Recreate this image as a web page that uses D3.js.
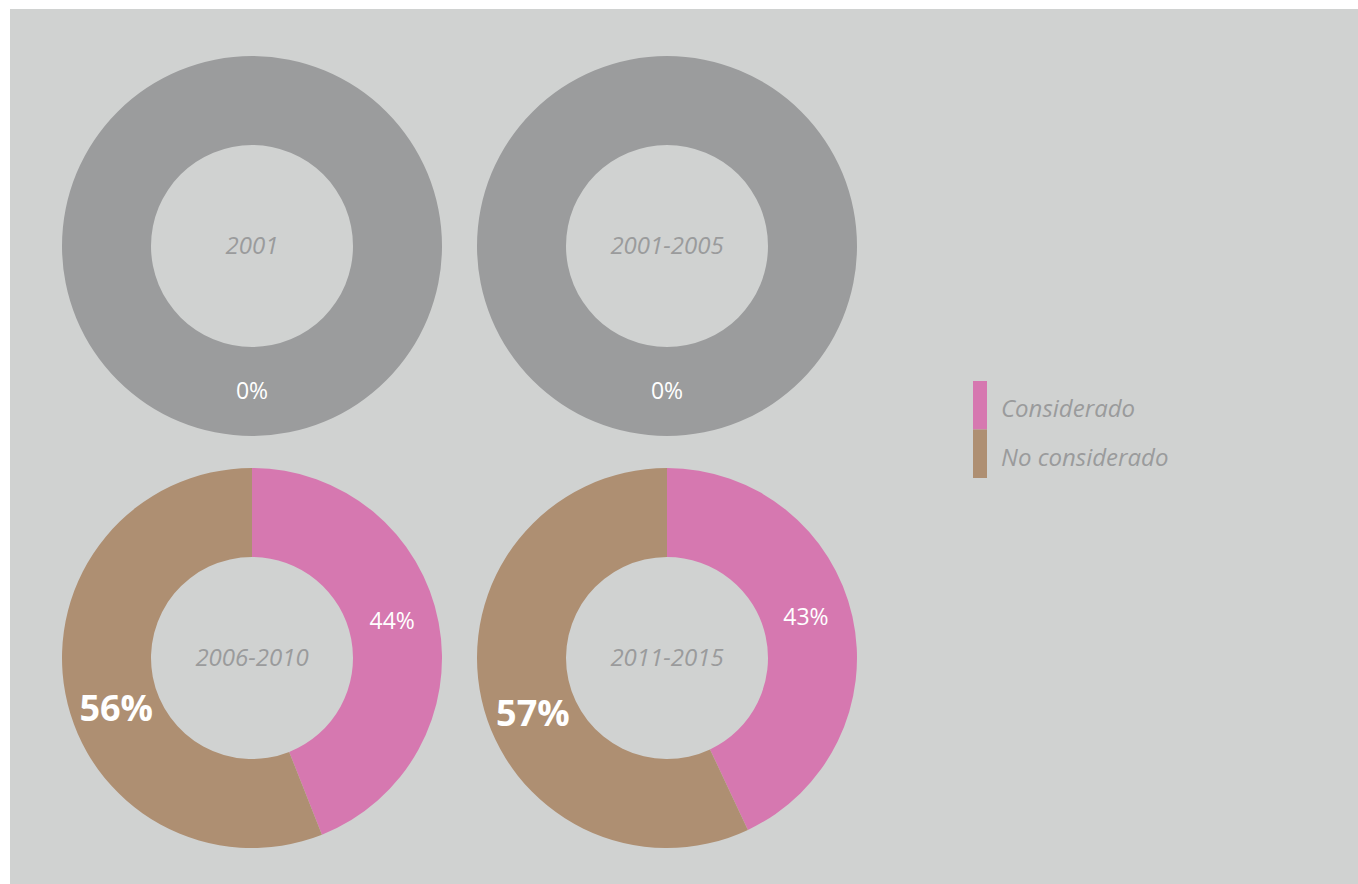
<!DOCTYPE html>
<html>
<head>
<meta charset="utf-8">
<script src="https://cdn.jsdelivr.net/npm/d3@7"></script>
<style>
  body { margin: 0; background: #fff; }
  text { font-family: 'Open Sans', sans-serif; }
</style>
</head>
<body>
<script>
// DATA
const periods = ['2001', '2001-2005', '2006-2010', '2011-2015'];
const considerado = [0, 0, 44, 43];
const noConsiderado = [0, 0, 56, 57];
const seriesNames = ['Considerado', 'No considerado'];

// CONFIGURATION
const width = 1358;
const height = 884;
const colors = ['#d678b0', '#ae8f72'];
const emptyColor = '#9b9c9d';
const outerR = 190;
const innerR = 101;
const labelR = 145;

const col = d3.scaleOrdinal().domain([0, 1]).range([252, 667]);
const row = d3.scaleOrdinal().domain([0, 1]).range([246, 658]);

const svg = d3.select('body')
	.append('svg')
	.attr('width', width)
	.attr('height', height);

svg.append('rect')
	.attr('x', 10)
	.attr('y', 9)
	.attr('width', width - 10)
	.attr('height', height - 9)
	.attr('fill', '#d0d2d1');

const pie = d3.pie().sort(null).value(function(d) { return d; });
const arc = d3.arc().innerRadius(innerR).outerRadius(outerR);

periods.forEach(function(period, i) {
	const g = svg.append('g')
		.attr('transform', `translate(${col(i % 2)}, ${row(Math.floor(i / 2))})`);
	const values = [considerado[i], noConsiderado[i]];
	const total = d3.sum(values);

	if (total === 0) {
		g.append('path')
			.attr('d', arc({ startAngle: 0, endAngle: 2 * Math.PI }))
			.attr('fill', emptyColor);
		g.append('text')
			.attr('x', 0)
			.attr('y', labelR)
			.attr('dy', '0.35em')
			.attr('text-anchor', 'middle')
			.attr('fill', '#fff')
			.attr('font-size', 23)
			.text('0%');
	} else {
		const arcs = pie(values);
		g.selectAll('path')
			.data(arcs)
			.enter()
			.append('path')
			.attr('d', arc)
			.attr('fill', function(d, j) { return colors[j]; });
		g.selectAll('text.pct')
			.data(arcs)
			.enter()
			.append('text')
			.attr('class', 'pct')
			.attr('transform', function(d) {
				const a = (d.startAngle + d.endAngle) / 2 - (d.index === 0 ? 0.07 : 0.17);
				return `translate(${Math.sin(a) * labelR}, ${-Math.cos(a) * labelR})`;
			})
			.attr('dy', '0.35em')
			.attr('text-anchor', 'middle')
			.attr('fill', '#fff')
			.attr('font-size', function(d) { return d.index === 1 ? 36 : 23; })
			.attr('font-weight', function(d) { return d.index === 1 ? 'bold' : 'normal'; })
			.text(function(d) { return d.data + '%'; });
	}

	g.append('text')
		.attr('x', 0)
		.attr('y', 0)
		.attr('dy', '0.35em')
		.attr('text-anchor', 'middle')
		.attr('fill', '#9a9b9c')
		.attr('font-size', 24)
		.attr('font-style', 'italic')
		.text(period);
});

// LEGEND
const legend = svg.append('g').attr('id', 'legend');
legend.selectAll('rect')
	.data(seriesNames)
	.enter()
	.append('rect')
	.attr('x', 973)
	.attr('y', function(d, i) { return 381 + i * 48.5; })
	.attr('width', 14)
	.attr('height', 48.5)
	.attr('fill', function(d, i) { return colors[i]; });
legend.selectAll('text')
	.data(seriesNames)
	.enter()
	.append('text')
	.attr('x', 1001)
	.attr('y', function(d, i) { return 409 + i * 48.5; })
	.attr('dy', '0.35em')
	.attr('fill', '#9a9b9c')
	.attr('font-size', 24)
	.attr('font-style', 'italic')
	.text(function(d) { return d; });
</script>
</body>
</html>
